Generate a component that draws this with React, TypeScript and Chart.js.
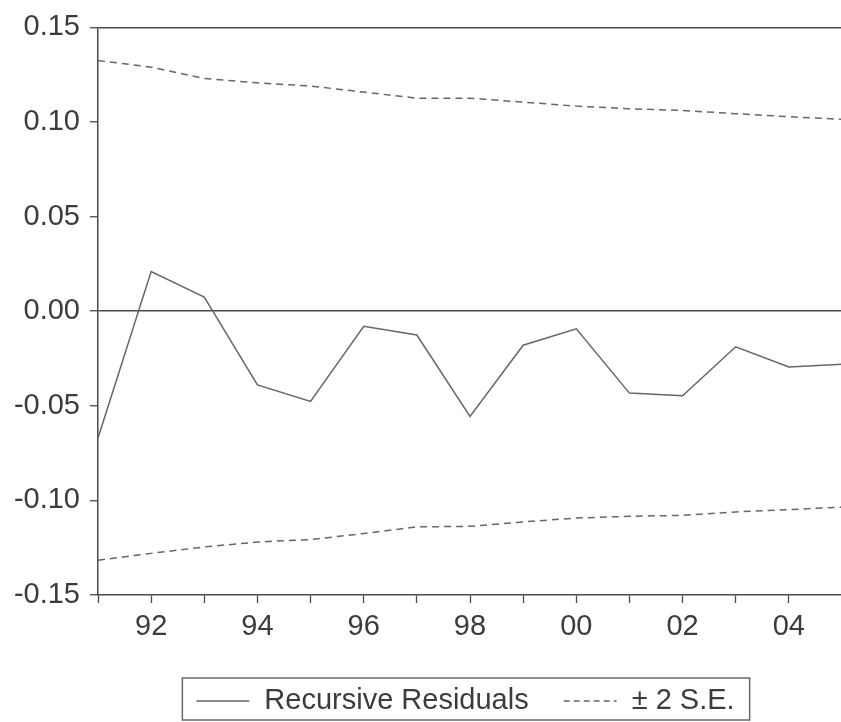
import React, { useEffect, useRef } from "react";
import { Chart, registerables } from "chart.js";

Chart.register(...registerables);

const years = ["1991", "1992", "1993", "1994", "1995", "1996", "1997", "1998", "1999", "2000", "2001", "2002", "2003", "2004", "2005"];
const xTickLabels = ["", "92", "", "94", "", "96", "", "98", "", "00", "", "02", "", "04", ""];
const residuals = [-0.067, 0.021, 0.0075, -0.039, -0.0477, -0.008, -0.0126, -0.0556, -0.018, -0.0093, -0.0433, -0.0447, -0.0188, -0.0295, -0.028];
const upperSE = [0.1325, 0.129, 0.123, 0.1207, 0.119, 0.1158, 0.1126, 0.1126, 0.1105, 0.1084, 0.107, 0.1061, 0.1044, 0.1028, 0.1014];
const lowerSE = [-0.1316, -0.128, -0.1246, -0.122, -0.1207, -0.1175, -0.114, -0.1137, -0.1114, -0.1093, -0.1084, -0.1079, -0.1061, -0.1049, -0.1035];
const yMin = -0.15;
const yMax = 0.15;
const yStep = 0.05;

const FONT = '"Liberation Sans", Arial, sans-serif';
const AXIS = "#4a4a4a";
const TEXT = "#3c3c3c";
const LINE = "#666666";
const DASH = [7, 5];

const boxLegend = {
  id: "boxLegend",
  afterDraw(chart: any) {
    const { ctx, chartArea } = chart;
    const ds = chart.data.datasets;
    const items = [
      { text: ds[0].label, dash: [] as number[] },
      { text: ds[1].label, dash: [6, 4] },
    ];
    ctx.save();
    ctx.font = `29px ${FONT}`;
    const sample = 53;
    const gapText = 15;
    const gapItem = 35;
    const padL = 14;
    const padR = 15;
    const widths = items.map((it) => ctx.measureText(it.text).width);
    let total = padL + padR + gapItem;
    widths.forEach((w) => (total += sample + gapText + w));
    const cx = (chartArea.left + chartArea.right) / 2 - 4;
    const left = cx - total / 2;
    const top = chartArea.bottom + 83;
    const h = 42;
    const cy = top + 23;
    ctx.strokeStyle = "#6a6a6a";
    ctx.lineWidth = 1.5;
    ctx.setLineDash([]);
    ctx.strokeRect(left, top, total, h);
    let x = left + padL;
    items.forEach((it, i) => {
      ctx.strokeStyle = LINE;
      ctx.lineWidth = 1.3;
      ctx.setLineDash(it.dash);
      ctx.beginPath();
      ctx.moveTo(x, cy);
      ctx.lineTo(x + sample, cy);
      ctx.stroke();
      ctx.setLineDash([]);
      x += sample + gapText;
      ctx.fillStyle = TEXT;
      ctx.textAlign = "left";
      ctx.textBaseline = "middle";
      ctx.fillText(it.text, x, cy);
      x += widths[i] + gapItem;
    });
    ctx.restore();
  },
};

export default function App() {
  const ref = useRef<HTMLCanvasElement>(null);
  useEffect(() => {
    if (!ref.current) return;
    const chart = new Chart(ref.current, {
      type: "line",
      data: {
        labels: years,
        datasets: [
          {
            label: "Recursive Residuals",
            data: residuals,
            borderColor: LINE,
            borderWidth: 1.5,
            pointRadius: 0,
            tension: 0,
          },
          {
            label: "± 2 S.E.",
            data: upperSE,
            borderColor: LINE,
            borderWidth: 1.5,
            borderDash: DASH,
            pointRadius: 0,
            tension: 0,
          },
          {
            label: "± 2 S.E.",
            data: lowerSE,
            borderColor: LINE,
            borderWidth: 1.5,
            borderDash: DASH,
            pointRadius: 0,
            tension: 0,
          },
        ],
      },
      options: {
        animation: false,
        responsive: true,
        maintainAspectRatio: false,
        layout: { padding: { top: 25, right: 0, bottom: 82, left: 0 } },
        plugins: {
          legend: { display: false },
          tooltip: { enabled: false },
        },
        scales: {
          x: {
            type: "category",
            offset: false,
            afterFit: (s: any) => {
              s.height = 45;
            },
            border: { display: true, color: AXIS, width: 1.5 },
            grid: {
              drawOnChartArea: false,
              drawTicks: true,
              tickLength: 8,
              tickColor: AXIS,
              tickWidth: 1.3,
            },
            ticks: {
              autoSkip: false,
              maxRotation: 0,
              padding: 7,
              color: TEXT,
              font: { family: FONT, size: 29 },
              callback: (_v: any, i: number) => xTickLabels[i],
            },
          },
          y: {
            min: yMin,
            max: yMax,
            afterFit: (s: any) => {
              s.width = 98;
            },
            border: { display: true, color: AXIS, width: 1.5 },
            grid: {
              drawOnChartArea: true,
              drawTicks: true,
              tickLength: 8,
              tickColor: AXIS,
              tickWidth: 1.3,
              lineWidth: 1.5,
              color: (c: any) => {
                const v = c.tick ? c.tick.value : NaN;
                return Math.abs(v) < 1e-9 || Math.abs(v - yMax) < 1e-9 ? AXIS : "rgba(0,0,0,0)";
              },
            },
            ticks: {
              stepSize: yStep,
              padding: 10,
              color: TEXT,
              font: { family: FONT, size: 29 },
              callback: (v: any) => (Math.abs(Number(v)) < 1e-9 ? "0.00" : Number(v).toFixed(2)),
            },
          },
        },
      },
      plugins: [boxLegend],
    });
    return () => chart.destroy();
  }, []);
  return (
    <div style={{ position: "fixed", left: 0, top: 0, width: 849, height: 722, background: "#fff" }}>
      <canvas ref={ref} />
    </div>
  );
}
